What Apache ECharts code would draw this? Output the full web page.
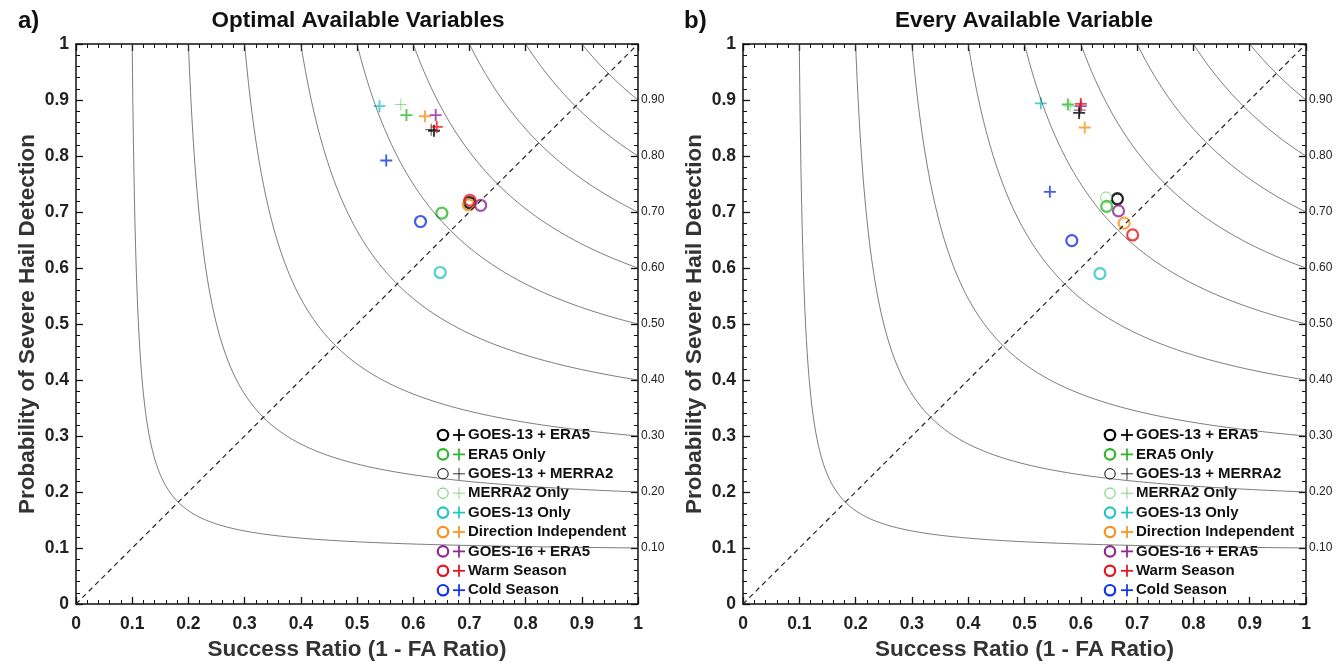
<!DOCTYPE html>
<html>
<head>
<meta charset="utf-8">
<script src="https://cdn.jsdelivr.net/npm/echarts@6/dist/echarts.min.js"></script>
<style>
  html, body { margin: 0; padding: 0; background: #fff; }
  #chart { width: 1344px; height: 665px; }
</style>
</head>
<body>
<div id="chart"></div>
<script>
// legend groups (same order in both panels)
const groupNames = ['GOES-13 + ERA5', 'ERA5 Only', 'GOES-13 + MERRA2', 'MERRA2 Only',
  'GOES-13 Only', 'Direction Independent', 'GOES-16 + ERA5', 'Warm Season', 'Cold Season'];

// [success ratio, POD]
const optimalCircles = [[0.700, 0.717], [0.651, 0.698], [0.702, 0.715], [0.700, 0.712],
  [0.648, 0.592], [0.698, 0.713], [0.720, 0.712], [0.701, 0.721], [0.613, 0.683]];
const optimalCrosses = [[0.637, 0.845], [0.588, 0.873], [0.632, 0.847], [0.578, 0.892],
  [0.540, 0.889], [0.621, 0.871], [0.640, 0.873], [0.642, 0.852], [0.552, 0.792]];
const everyCircles = [[0.665, 0.724], [0.646, 0.710], [0.665, 0.722], [0.645, 0.726],
  [0.634, 0.590], [0.677, 0.680], [0.667, 0.702], [0.692, 0.659], [0.584, 0.649]];
const everyCrosses = [[0.597, 0.877], [0.577, 0.892], [0.598, 0.882], [0.581, 0.889],
  [0.529, 0.894], [0.607, 0.851], [0.600, 0.889], [0.600, 0.893], [0.545, 0.736]];

// critical success index contour levels
const csiLevels = [0.1, 0.2, 0.3, 0.4, 0.5, 0.6, 0.7, 0.8, 0.9];

const colors = ['#000000', '#2cb82c', '#000000', '#66cc66', '#22c4c4', '#f5941e', '#912591', '#e8141c', '#1434e6'];
const widths = [2.2, 2.2, 1, 1, 2.2, 2.2, 2.2, 2.2, 2.2];

const FONT = 'Liberation Sans';
const chart = echarts.init(document.getElementById('chart'));

// POD along a CSI isoline: 1/CSI = 1/SR + 1/POD - 1
function csiCurve(c) {
  const pts = [];
  const n = 160;
  for (let i = 0; i <= n; i++) {
    const t = i / n;
    const s = c + (1 - c) * t * t;
    pts.push([s, 1 / (1 / c - 1 / s + 1)]);
  }
  return pts;
}

const grids = [
  { left: 76, top: 44, width: 562, height: 560, outerBoundsMode: 'none' },
  { left: 743, top: 44, width: 563, height: 560, outerBoundsMode: 'none' }
];

function axisBase(gi) {
  return {
    gridIndex: gi, type: 'value', min: 0, max: 1, interval: 0.1,
    axisLine: { onZero: false, lineStyle: { color: '#111', width: 1.5 } },
    axisTick: { inside: true, length: 7, lineStyle: { color: '#111', width: 1.3 } },
    minorTick: { show: true, splitNumber: 5, length: 4, lineStyle: { color: '#111', width: 1 } },
    splitLine: { show: false }
  };
}

function xAxes(gi) {
  return [
    Object.assign(axisBase(gi), {
      position: 'bottom',
      name: 'Success Ratio (1 - FA Ratio)', nameLocation: 'middle', nameGap: 32,
      nameTextStyle: { fontFamily: FONT, fontWeight: 'bold', fontSize: 22.5, color: '#333' },
      axisLabel: { fontFamily: FONT, fontWeight: 'bold', fontSize: 17.5, color: '#222', margin: 11,
        formatter: v => String(+v.toFixed(1)) }
    }),
    Object.assign(axisBase(gi), { position: 'top', axisLabel: { show: false } })
  ];
}

function yAxes(gi) {
  return [
    Object.assign(axisBase(gi), {
      position: 'left',
      name: 'Probability of Severe Hail Detection', nameLocation: 'middle', nameGap: 37,
      nameTextStyle: { fontFamily: FONT, fontWeight: 'bold', fontSize: 22.5, color: '#333' },
      axisLabel: { fontFamily: FONT, fontWeight: 'bold', fontSize: 17.5, color: '#222', margin: 7,
        formatter: v => String(+v.toFixed(1)) }
    }),
    Object.assign(axisBase(gi), {
      position: 'right',
      axisLabel: { fontFamily: FONT, fontSize: 12, color: '#222', margin: 3,
        formatter: v => (v > 0.001 && v < 0.999) ? v.toFixed(2) : '' }
    })
  ];
}

function panelSeries(gi, circles, crosses) {
  const xi = gi * 2, yi = gi * 2;
  const out = [];
  csiLevels.forEach(c => {
    out.push({
      type: 'line', xAxisIndex: xi, yAxisIndex: yi, data: csiCurve(c),
      showSymbol: false, silent: true, clip: true,
      lineStyle: { color: '#444', width: 0.7 }
    });
  });
  out.push({
    type: 'line', xAxisIndex: xi, yAxisIndex: yi, data: [[0, 0], [1, 1]],
    showSymbol: false, silent: true,
    lineStyle: { color: '#222', width: 1.2, type: [5, 4] }
  });
  groupNames.forEach((name, i) => {
    out.push({
      type: 'scatter', name: name, xAxisIndex: xi, yAxisIndex: yi,
      data: [crosses[i]], symbol: 'path://M0,6L12,6M6,0L6,12', symbolSize: 12,
      itemStyle: { color: 'transparent', borderColor: colors[i], borderWidth: widths[i] * 0.85 }
    });
  });
  groupNames.forEach((name, i) => {
    out.push({
      type: 'scatter', name: name, xAxisIndex: xi, yAxisIndex: yi,
      data: [circles[i]], symbol: 'circle', symbolSize: 11,
      itemStyle: { color: 'transparent', borderColor: colors[i], borderWidth: widths[i] }
    });
  });
  return out;
}

function legendGraphic(cx, px, tx, y0) {
  const els = [];
  groupNames.forEach((name, i) => {
    const y = y0 + i * 19.4;
    const lw = widths[i];
    els.push({ type: 'circle', shape: { cx: cx, cy: y, r: 5.2 },
      style: { fill: 'none', stroke: colors[i], lineWidth: lw } });
    els.push({ type: 'line', shape: { x1: px - 6, y1: y, x2: px + 6, y2: y },
      style: { stroke: colors[i], lineWidth: lw * 0.8 } });
    els.push({ type: 'line', shape: { x1: px, y1: y - 6, x2: px, y2: y + 6 },
      style: { stroke: colors[i], lineWidth: lw * 0.8 } });
    els.push({ type: 'text', x: tx, y: y,
      style: { text: name, fill: '#111', font: 'bold 15px "Liberation Sans"', verticalAlign: 'middle' } });
  });
  return els;
}

const headings = [
  { type: 'text', x: 18, y: 21, style: { text: 'a)', fill: '#111', font: 'bold 24px "Liberation Sans"', verticalAlign: 'middle' } },
  { type: 'text', x: 358, y: 21, style: { text: 'Optimal Available Variables', fill: '#111', font: 'bold 22.5px "Liberation Sans"', align: 'center', verticalAlign: 'middle' } },
  { type: 'text', x: 684, y: 21, style: { text: 'b)', fill: '#111', font: 'bold 24px "Liberation Sans"', verticalAlign: 'middle' } },
  { type: 'text', x: 1024, y: 21, style: { text: 'Every Available Variable', fill: '#111', font: 'bold 22.5px "Liberation Sans"', align: 'center', verticalAlign: 'middle' } }
];

const option = {
  animation: false,
  backgroundColor: '#fff',
  grid: grids,
  xAxis: xAxes(0).concat(xAxes(1)),
  yAxis: yAxes(0).concat(yAxes(1)),
  series: panelSeries(0, optimalCircles, optimalCrosses).concat(panelSeries(1, everyCircles, everyCrosses)),
  graphic: headings
    .concat(legendGraphic(443, 459, 468, 435))
    .concat(legendGraphic(1110, 1127, 1136, 435))
};

chart.setOption(option);
</script>
</body>
</html>
